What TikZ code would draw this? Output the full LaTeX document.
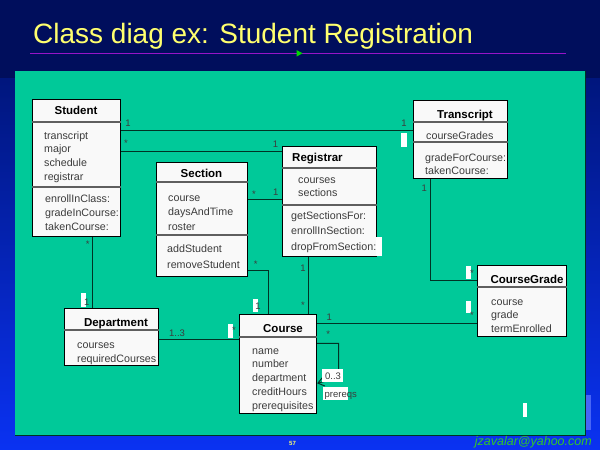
\documentclass[tikz,border=0pt]{standalone}
\usepackage{fontspec}
\setmainfont{Liberation Sans}
\usetikzlibrary{arrows.meta}

\definecolor{slidenavy}{RGB}{0,14,92}
\definecolor{slidenavylow}{RGB}{0,22,125}
\definecolor{slideblue}{RGB}{10,50,242}
\definecolor{panelteal}{RGB}{0,201,153}
\definecolor{titleyellow}{RGB}{255,255,110}
\definecolor{rulepurple}{RGB}{150,20,200}
\definecolor{emailgreen}{RGB}{50,200,40}
\definecolor{boxfill}{RGB}{249,249,249}
\definecolor{membergray}{RGB}{60,60,60}
\definecolor{dividergray}{RGB}{95,95,95}
\definecolor{linedark}{RGB}{0,50,36}

\begin{document}
\begin{tikzpicture}[
    x=1pt, y=-1pt,
    classbox/.style={rectangle, draw=black, line width=1.1pt, fill=boxfill, inner sep=0pt, anchor=north west},
    classname/.style={font=\bfseries\fontsize{11.5}{14}\selectfont, text=black, anchor=base, inner sep=0pt},
    members/.style={font=\fontsize{10.7}{13.75}\selectfont, text=membergray, align=left, anchor=base west, inner sep=0pt},
    divider/.style={draw=dividergray, line width=1.4pt},
    assoc/.style={draw=linedark, line width=1pt},
    mult/.style={font=\fontsize{9.5}{11}\selectfont, text=membergray, inner sep=0pt}
]
    \useasboundingbox (0,0) rectangle (600,450);

    % slide background
    \fill[slidenavy] (0,0) rectangle (600,450);
    \shade[top color=slidenavylow, bottom color=slideblue] (0,78) rectangle (600,450);
    \fill[panelteal] (15,71) rectangle (585,435);
    \draw[linedark, line width=0.8pt] (15,435) -- (585,435) -- (585,71);
    \fill[slideblue!70!white!85!slideblue] (585.5,395) rectangle (591,430);

    \node[anchor=base west, font=\fontsize{28}{32}\selectfont, text=titleyellow, inner sep=0pt] (title) at (33,43) {Class diag ex: Student Registration};
    \draw[rulepurple, line width=0.8pt] (30,53.3) -- (565.6,53.3);
    \fill[green!85!black] (296.5,50) -- (302.5,53.3) -- (296.5,56.6) -- cycle;

    % classes
    \node[classbox, minimum width=88pt, minimum height=137pt] (student) at (32,99) {};
    \node[classbox, minimum width=94pt, minimum height=78pt] (transcript) at (413,100) {};
    \node[classbox, minimum width=91pt, minimum height=114pt] (section) at (156,162) {};
    \node[classbox, minimum width=94pt, minimum height=110pt] (registrar) at (282,146) {};
    \node[classbox, minimum width=77pt, minimum height=99pt] (course) at (239,314) {};
    \node[classbox, minimum width=94pt, minimum height=57pt] (department) at (64,308) {};
    \node[classbox, minimum width=89pt, minimum height=71pt] (coursegrade) at (477,265) {};
    \fill[white] (376,237) rectangle (382,256);

    \draw[divider] (student.west |- 0,122) -- (student.east |- 0,122);
    \draw[divider] (student.west |- 0,187) -- (student.east |- 0,187);
    \draw[divider] (transcript.west |- 0,122) -- (transcript.east |- 0,122);
    \draw[divider] (transcript.west |- 0,142) -- (transcript.east |- 0,142);
    \draw[divider] (section.west |- 0,182) -- (section.east |- 0,182);
    \draw[divider] (section.west |- 0,235) -- (section.east |- 0,235);
    \draw[divider] (registrar.west |- 0,168) -- (registrar.east |- 0,168);
    \draw[divider] (registrar.west |- 0,205) -- (registrar.east |- 0,205);
    \draw[divider] (course.west |- 0,337) -- (course.east |- 0,337);
    \draw[divider] (department.west |- 0,330) -- (department.east |- 0,330);
    \draw[divider] (coursegrade.west |- 0,287) -- (coursegrade.east |- 0,287);

    % member lists sit on the baseline of their last line
    \node[classname] (student-name) at (76,114) {Student};
    \node[members] (student-attr) at (44,180.25) {transcript\\major\\schedule\\registrar};
    \node[members] (student-ops) at (45,230) {enrollInClass:\\gradeInCourse:\\takenCourse:};

    \node[classname] (transcript-name) at (465,118) {Transcript};
    \node[members] (transcript-attr) at (426,139) {courseGrades};
    \node[members] (transcript-ops) at (425,174.75) {gradeForCourse:\\takenCourse:};

    \node[classname] (section-name) at (201.5,177.5) {Section};
    \node[members, font=\fontsize{10.7}{14.3}\selectfont] (section-attr) at (168,230.1) {course\\daysAndTime\\roster};
    \node[members, font=\fontsize{10.7}{16}\selectfont] (section-ops) at (167,268) {addStudent\\removeStudent};

    \node[classname, anchor=base west] (registrar-name) at (292,161.5) {Registrar};
    \node[members, font=\fontsize{10.7}{13}\selectfont] (registrar-attr) at (298,196.5) {courses\\sections};
    \node[members, font=\fontsize{10.7}{15.5}\selectfont] (registrar-ops) at (291,250) {getSectionsFor:\\enrollInSection:\\dropFromSection:};

    \node[classname] (course-name) at (283,332) {Course};
    \node[members] (course-attr) at (252,409) {name\\number\\department\\creditHours\\prerequisites};

    \node[classname] (department-name) at (116,326) {Department};
    \node[members, font=\fontsize{10.7}{14.3}\selectfont] (department-attr) at (77,362.8) {courses\\requiredCourses};

    \node[classname] (coursegrade-name) at (527,283) {CourseGrade};
    \node[members] (coursegrade-attr) at (491,332.5) {course\\grade\\termEnrolled};

    % associations
    \draw[assoc] (student.east |- 0,130) -- (transcript.west |- 0,130);
    \draw[assoc] (student.east |- 0,151) -- (registrar.west |- 0,151);
    \draw[assoc] (section.east |- 0,199.5) -- (registrar.west |- 0,199.5);
    \draw[assoc] (section.east |- 0,270) -| (course.north -| 268,0);
    \draw[assoc] (registrar.south -| 308.5,0) -- (course.north -| 308.5,0);
    \draw[assoc] (student.south -| 92.5,0) -- (department.north -| 92.5,0);
    \draw[assoc] (department.east |- 0,339) -- (course.west |- 0,339);
    \draw[assoc] (course.east |- 0,323.5) -- (coursegrade.west |- 0,323.5);
    \draw[assoc] (transcript.south -| 430,0) |- (coursegrade.west |- 0,280);
    \draw[assoc, -{Straight Barb[length=6pt, width=9pt]}] (course.east |- 0,343.3) -- (338.5,343.3) -- (338.5,378) -- (course.east |- 0,383.3);

    % label patches
    \fill[white] (401,133.3) rectangle (406.7,146.7);
    \fill[white] (80.7,293.3) rectangle (85.7,306.7);
    \fill[white] (253,299) rectangle (258,311.7);
    \fill[white] (228.3,324.3) rectangle (233.3,338.3);
    \fill[white] (466,265.7) rectangle (470.7,279);
    \fill[white] (466,301) rectangle (470.7,313.3);
    \fill[white] (522.7,403.3) rectangle (527.3,416.7);
    \fill[white] (322.3,369) rectangle (343.3,381.7);
    \fill[white] (323.3,387.3) rectangle (348.3,400);

    % multiplicities
    \node[mult] (st-tr-a) at (128,123) {1};
    \node[mult] (st-tr-b) at (404,123) {1};
    \node[mult] (st-rg-a) at (126,143.5) {*};
    \node[mult] (st-rg-b) at (275.5,144) {1};
    \node[mult] (se-rg-a) at (254,194) {*};
    \node[mult] (se-rg-b) at (275.7,192.7) {1};
    \node[mult] (se-co-a) at (255.7,264.5) {*};
    \node[mult] (se-co-b) at (258,306.7) {1};
    \node[mult] (rg-co-a) at (303,268.3) {1};
    \node[mult] (rg-co-b) at (303,305.7) {*};
    \node[mult] (st-de-a) at (87.7,244.3) {*};
    \node[mult] (st-de-b) at (86.7,302) {1};
    \node[mult] (de-co-a) at (177,333.3) {1..3};
    \node[mult] (de-co-b) at (234,330) {*};
    \node[mult] (co-cg-a) at (329.3,317.7) {1};
    \node[mult] (co-cg-b) at (472,315) {*};
    \node[mult] (tr-cg-a) at (424.3,188.3) {1};
    \node[mult] (tr-cg-b) at (472,273.3) {*};
    \node[mult] (co-co-a) at (328.3,334.3) {*};
    \node[mult] (co-co-b) at (333,376.5) {0..3};
    \node[mult, anchor=west] (prereqs) at (324.5,395.7) {prereqs};

    \node[font=\bfseries\fontsize{6}{7}\selectfont, text=titleyellow, inner sep=0pt] (pagenum) at (292.5,443.5) {57};
    \node[anchor=base east, font=\itshape\fontsize{12.5}{14}\selectfont, text=emailgreen, inner sep=0pt] (email) at (592,445) {jzavalar@yahoo.com};
\end{tikzpicture}
\end{document}
